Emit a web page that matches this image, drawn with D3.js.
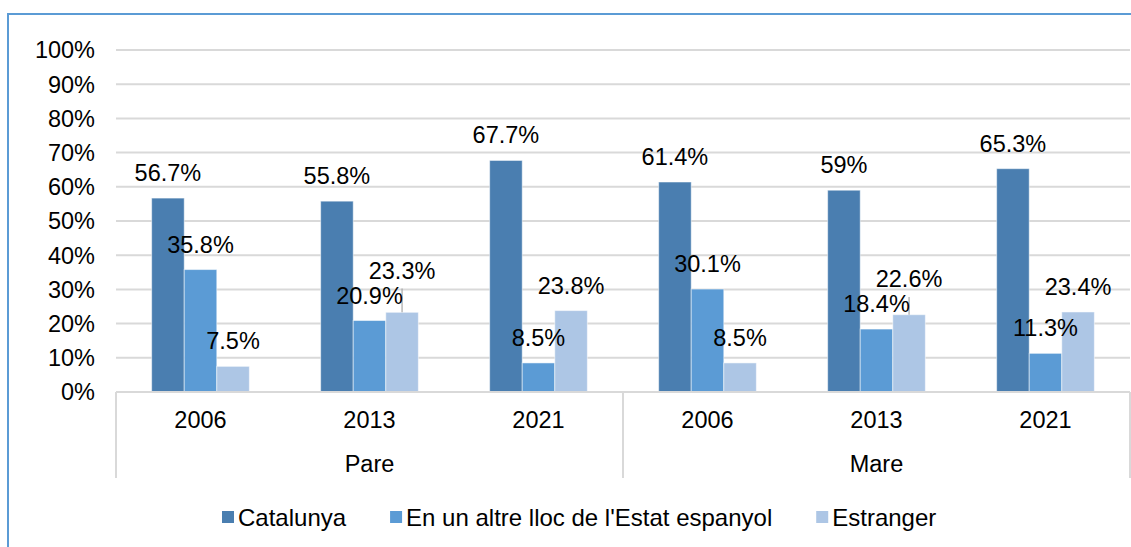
<!DOCTYPE html>
<html>
<head>
<meta charset="utf-8">
<script src="https://cdn.jsdelivr.net/npm/d3@7"></script>
<style>
  html, body { margin: 0; padding: 0; background: #fff; }
  svg { display: block; font-family: "Liberation Sans", Arial, sans-serif; }
</style>
</head>
<body>
<svg id="chart" width="1131" height="547"></svg>
<script>
// ---- data ----
const groups = ["Pare", "Mare"];
const years = ["2006", "2013", "2021"];
const seriesNames = ["Catalunya", "En un altre lloc de l'Estat espanyol", "Estranger"];
const catalunya = [56.7, 55.8, 67.7, 61.4, 59, 65.3];
const altreLloc = [35.8, 20.9, 8.5, 30.1, 18.4, 11.3];
const estranger = [7.5, 23.3, 23.8, 8.5, 22.6, 23.4];
const yTicks = [0, 10, 20, 30, 40, 50, 60, 70, 80, 90, 100];

const colors = ["#4a7eb0", "#5b9bd5", "#adc6e5"];
const seriesValues = [catalunya, altreLloc, estranger];

const svg = d3.select("#chart");
const W = 1131, H = 547;
const plot = { left: 116, right: 1130, top: 50, bottom: 392 };
const fontSize = 23.5;

// chart frame (left and top border visible)
svg.append("line").attr("x1", 8).attr("x2", W).attr("y1", 14).attr("y2", 14)
  .attr("stroke", "#5b9bd5").attr("stroke-width", 2);
svg.append("line").attr("x1", 8).attr("x2", 8).attr("y1", 13).attr("y2", H)
  .attr("stroke", "#5b9bd5").attr("stroke-width", 2);

// categories
const cats = [];
groups.forEach(g => years.forEach(y => cats.push(g + "|" + y)));

const x0 = d3.scaleBand().domain(cats).range([plot.left, plot.right]).paddingInner(0).paddingOuter(0);
const bw = x0.bandwidth();
const barW = bw / (3 + 2.19);
const x1 = d3.scaleBand().domain(seriesNames)
  .range([(bw - 3 * barW) / 2, (bw + 3 * barW) / 2]).padding(0);
const y = d3.scaleLinear().domain([0, 100]).range([plot.bottom, plot.top]);

// gridlines
svg.append("g").selectAll("line").data(yTicks.filter(t => t > 0)).join("line")
  .attr("x1", plot.left).attr("x2", plot.right)
  .attr("y1", d => y(d)).attr("y2", d => y(d))
  .attr("stroke", "#d9d9d9").attr("stroke-width", 2);

// y axis labels
svg.append("g").selectAll("text").data(yTicks).join("text")
  .attr("x", 95).attr("y", d => y(d)).attr("dy", "0.36em")
  .attr("text-anchor", "end").attr("font-size", fontSize).attr("fill", "#000")
  .text(d => d + "%");

// bars
const barData = [];
seriesNames.forEach((s, si) => {
  cats.forEach((c, ci) => barData.push({ s, si, c, ci, v: seriesValues[si][ci] }));
});
svg.append("g").selectAll("rect").data(barData).join("rect")
  .attr("x", d => x0(d.c) + x1(d.s))
  .attr("width", x1.bandwidth())
  .attr("y", d => y(d.v))
  .attr("height", d => y(0) - y(d.v))
  .attr("fill", d => colors[d.si])
  .attr("stroke", "#ffffff").attr("stroke-opacity", 0.5).attr("stroke-width", 1);

// x axis line + separators
svg.append("line").attr("x1", plot.left).attr("x2", plot.right)
  .attr("y1", plot.bottom).attr("y2", plot.bottom)
  .attr("stroke", "#d9d9d9").attr("stroke-width", 2);
const sepX = [plot.left, x0(groups[1] + "|" + years[0]), plot.right];
svg.append("g").selectAll("line").data(sepX).join("line")
  .attr("x1", d => d).attr("x2", d => d)
  .attr("y1", plot.bottom).attr("y2", 478)
  .attr("stroke", "#d9d9d9").attr("stroke-width", 2);

// year labels
svg.append("g").selectAll("text").data(cats).join("text")
  .attr("x", d => x0(d) + bw / 2).attr("y", 428)
  .attr("text-anchor", "middle").attr("font-size", fontSize)
  .text(d => d.split("|")[1]);

// group labels
svg.append("g").selectAll("text").data(groups).join("text")
  .attr("x", g => x0(g + "|" + years[1]) + bw / 2).attr("y", 472)
  .attr("text-anchor", "middle").attr("font-size", fontSize)
  .text(g => g);

// data labels
const labelGap = 17;
const labels = barData.map(d => ({
  ...d,
  cx: x0(d.c) + x1(d.s) + x1.bandwidth() / 2,
  by: y(d.v) - labelGap,
  moved: false
}));
// avoid collisions between series 2 and 3 labels
labels.filter(l => l.si === 2).forEach(l => {
  const other = labels.find(o => o.si === 1 && o.ci === l.ci);
  if (Math.abs(l.by - other.by) < 20) {
    l.by = other.by - 25;
    l.moved = true;
  }
});
svg.append("g").selectAll("line").data(labels.filter(l => l.moved)).join("line")
  .attr("x1", d => d.cx).attr("x2", d => d.cx)
  .attr("y1", d => d.by + 10).attr("y2", d => y(d.v))
  .attr("stroke", "#a6a6a6").attr("stroke-width", 1.2);
svg.append("g").selectAll("text").data(labels).join("text")
  .attr("x", d => d.cx).attr("y", d => d.by)
  .attr("text-anchor", "middle").attr("font-size", fontSize).attr("fill", "#000")
  .text(d => d.v + "%");

// legend
const legend = svg.append("g");
let lx = 222;
const ly = 517;
seriesNames.forEach((s, i) => {
  legend.append("rect").attr("x", lx).attr("y", ly - 6).attr("width", 12).attr("height", 12)
    .attr("fill", colors[i]);
  const t = legend.append("text").attr("x", lx + 16).attr("y", ly).attr("dy", "0.36em")
    .attr("font-size", 24).text(s);
  const w = t.node().getComputedTextLength();
  lx = lx + 16 + w + 44;
});
</script>
</body>
</html>
